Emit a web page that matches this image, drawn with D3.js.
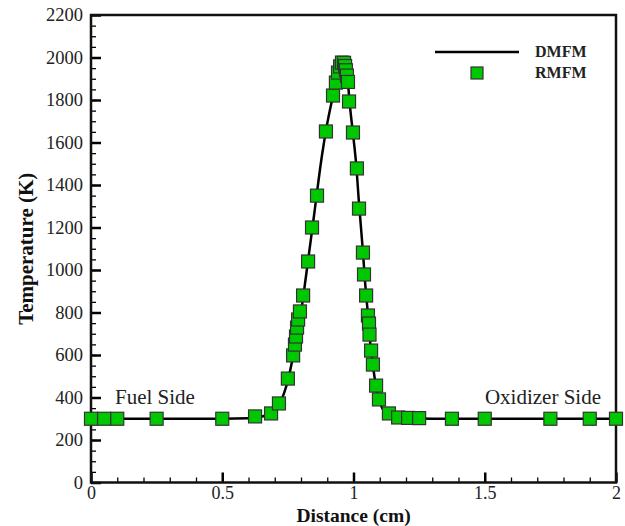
<!DOCTYPE html>
<html>
<head>
<meta charset="utf-8">
<script src="https://cdn.jsdelivr.net/npm/d3@7"></script>
<style>
  body { margin: 0; background: #fff; }
  svg { display: block; }
</style>
</head>
<body>
<div id="chart"></div>
<script>
"use strict"

// DMFM line
const dmfmX = [0, 0.25, 0.5, 0.6, 0.65, 0.7, 0.72, 0.75, 0.78, 0.8, 0.82, 0.85, 0.88, 0.9, 0.92, 0.94,
  0.955, 0.965, 0.975, 0.985, 1.0, 1.01, 1.02, 1.035, 1.045, 1.055, 1.065, 1.075, 1.085, 1.1, 1.12, 1.15, 1.2, 1.3, 2.0]
const dmfmT = [300, 300, 300, 302, 310, 340, 375, 480, 660, 800, 980, 1260, 1540, 1690, 1810, 1925,
  1970, 1980, 1935, 1790, 1620, 1500, 1330, 1100, 930, 790, 640, 540, 460, 380, 330, 310, 302, 300, 300]

// RMFM squares
const rmfmX = [0, 0.05, 0.1, 0.25, 0.5, 0.625, 0.686, 0.716, 0.75, 0.77, 0.777, 0.781, 0.785, 0.789, 0.796,
  0.808, 0.827, 0.842, 0.861, 0.895, 0.922, 0.933, 0.941, 0.949, 0.956, 0.964, 0.968, 0.971, 0.975, 0.979,
  0.983, 0.998, 1.013, 1.021, 1.036, 1.04, 1.048, 1.055, 1.059, 1.061, 1.067, 1.074, 1.086, 1.097, 1.135,
  1.17, 1.208, 1.25, 1.375, 1.5, 1.75, 1.9, 2.0]
const rmfmT = [300, 300, 300, 300, 300, 311, 325, 372, 489, 598, 649, 687, 729, 767, 805,
  880, 1040, 1200, 1350, 1652, 1821, 1882, 1929, 1958, 1976, 1975, 1960, 1940, 1915, 1885,
  1793, 1647, 1478, 1289, 1082, 979, 880, 786, 748, 696, 621, 555, 456, 391, 325,
  306, 304, 303, 300, 300, 300, 300, 300]

const xTicks = [0, 0.5, 1, 1.5, 2]
const xTickLabels = ["0", "0.5", "1", "1.5", "2"]
const yTicks = [0, 200, 400, 600, 800, 1000, 1200, 1400, 1600, 1800, 2000, 2200]
const legendNames = ["DMFM", "RMFM"]

const width = 625, height = 526
const plot = { left: 91, right: 616, top: 15, bottom: 482.5 }
const font = "Liberation Serif, Times New Roman, serif"

const svg = d3.select("#chart").append("svg")
  .attr("width", width)
  .attr("height", height)

const x = d3.scaleLinear().domain([0, 2]).range([plot.left, plot.right])
const y = d3.scaleLinear().domain([0, 2200]).range([plot.bottom, plot.top])

// minor ticks
const xMinor = d3.range(0, 2.0001, 0.1)
const yMinor = d3.range(0, 2200.01, 50)

svg.append("g")
  .attr("transform", `translate(0,${plot.bottom})`)
  .call(d3.axisBottom(x).tickValues(xMinor).tickSize(-5).tickFormat(""))
  .call((g) => g.select(".domain").remove())
  .call((g) => g.selectAll("line").attr("stroke-width", 1.3))

svg.append("g")
  .attr("transform", `translate(${plot.left},0)`)
  .call(d3.axisLeft(y).tickValues(yMinor).tickSize(-5).tickFormat(""))
  .call((g) => g.select(".domain").remove())
  .call((g) => g.selectAll("line").attr("stroke-width", 1.3))

// major ticks + labels
svg.append("g")
  .attr("transform", `translate(0,${plot.bottom})`)
  .call(d3.axisBottom(x).tickValues(xTicks).tickSize(-10).tickPadding(4)
    .tickFormat((d, i) => xTickLabels[i]))
  .call((g) => g.select(".domain").remove())
  .call((g) => g.selectAll("line").attr("stroke-width", 2.5))
  .call((g) => g.selectAll("text")
    .attr("font-family", font).attr("font-size", 18).attr("fill", "#222"))

svg.append("g")
  .attr("transform", `translate(${plot.left},0)`)
  .call(d3.axisLeft(y).tickValues(yTicks).tickSize(-10).tickPadding(8).tickFormat(d3.format("d")))
  .call((g) => g.select(".domain").remove())
  .call((g) => g.selectAll("line").attr("stroke-width", 2.5))
  .call((g) => g.selectAll("text")
    .attr("font-family", font).attr("font-size", 18.5).attr("fill", "#222"))

// frame
svg.append("rect")
  .attr("x", plot.left).attr("y", plot.top)
  .attr("width", plot.right - plot.left).attr("height", plot.bottom - plot.top)
  .attr("fill", "none").attr("stroke", "#111").attr("stroke-width", 2.5)

// DMFM line
const line = d3.line()
  .x((d) => x(d[0]))
  .y((d) => y(d[1]))
  .curve(d3.curveMonotoneX)

svg.append("path")
  .datum(dmfmX.map((v, i) => [v, dmfmT[i]]))
  .attr("d", line)
  .attr("fill", "none")
  .attr("stroke", "#000")
  .attr("stroke-width", 2.5)

// RMFM squares
const sq = 13
svg.append("g")
  .selectAll("rect")
  .data(rmfmX.map((v, i) => [v, rmfmT[i]]))
  .join("rect")
    .attr("x", (d) => x(d[0]) - sq / 2)
    .attr("y", (d) => y(d[1]) - sq / 2)
    .attr("width", sq)
    .attr("height", sq)
    .attr("fill", "#00c800")
    .attr("stroke", "#333")
    .attr("stroke-width", 1.2)

// legend
svg.append("line")
  .attr("x1", 435).attr("x2", 519).attr("y1", 52).attr("y2", 52)
  .attr("stroke", "#000").attr("stroke-width", 2.5)

svg.append("rect")
  .attr("x", 477 - 6).attr("y", 73 - 6).attr("width", 12).attr("height", 12)
  .attr("fill", "#00c800").attr("stroke", "#333").attr("stroke-width", 1.2)

svg.selectAll("text.legend")
  .data(legendNames)
  .join("text")
    .attr("class", "legend")
    .attr("x", 535)
    .attr("y", (d, i) => 57 + i * 21)
    .attr("font-family", font)
    .attr("font-size", 16)
    .attr("font-weight", "bold")
    .attr("fill", "#222")
    .text((d) => d)

// annotations
svg.append("text")
  .attr("x", 115).attr("y", 404)
  .attr("font-family", font).attr("font-size", 21).attr("fill", "#222")
  .text("Fuel Side")

svg.append("text")
  .attr("x", 601).attr("y", 404)
  .attr("text-anchor", "end")
  .attr("font-family", font).attr("font-size", 21).attr("fill", "#222")
  .text("Oxidizer Side")

// axis titles
svg.append("text")
  .attr("x", (plot.left + plot.right) / 2).attr("y", 521.5)
  .attr("text-anchor", "middle")
  .attr("font-family", font).attr("font-size", 19.5).attr("font-weight", "bold").attr("fill", "#111")
  .text("Distance (cm)")

svg.append("text")
  .attr("transform", `translate(33,${(plot.top + plot.bottom) / 2}) rotate(-90)`)
  .attr("text-anchor", "middle")
  .attr("font-family", font).attr("font-size", 21).attr("font-weight", "bold").attr("fill", "#111")
  .text("Temperature (K)")
</script>
</body>
</html>
